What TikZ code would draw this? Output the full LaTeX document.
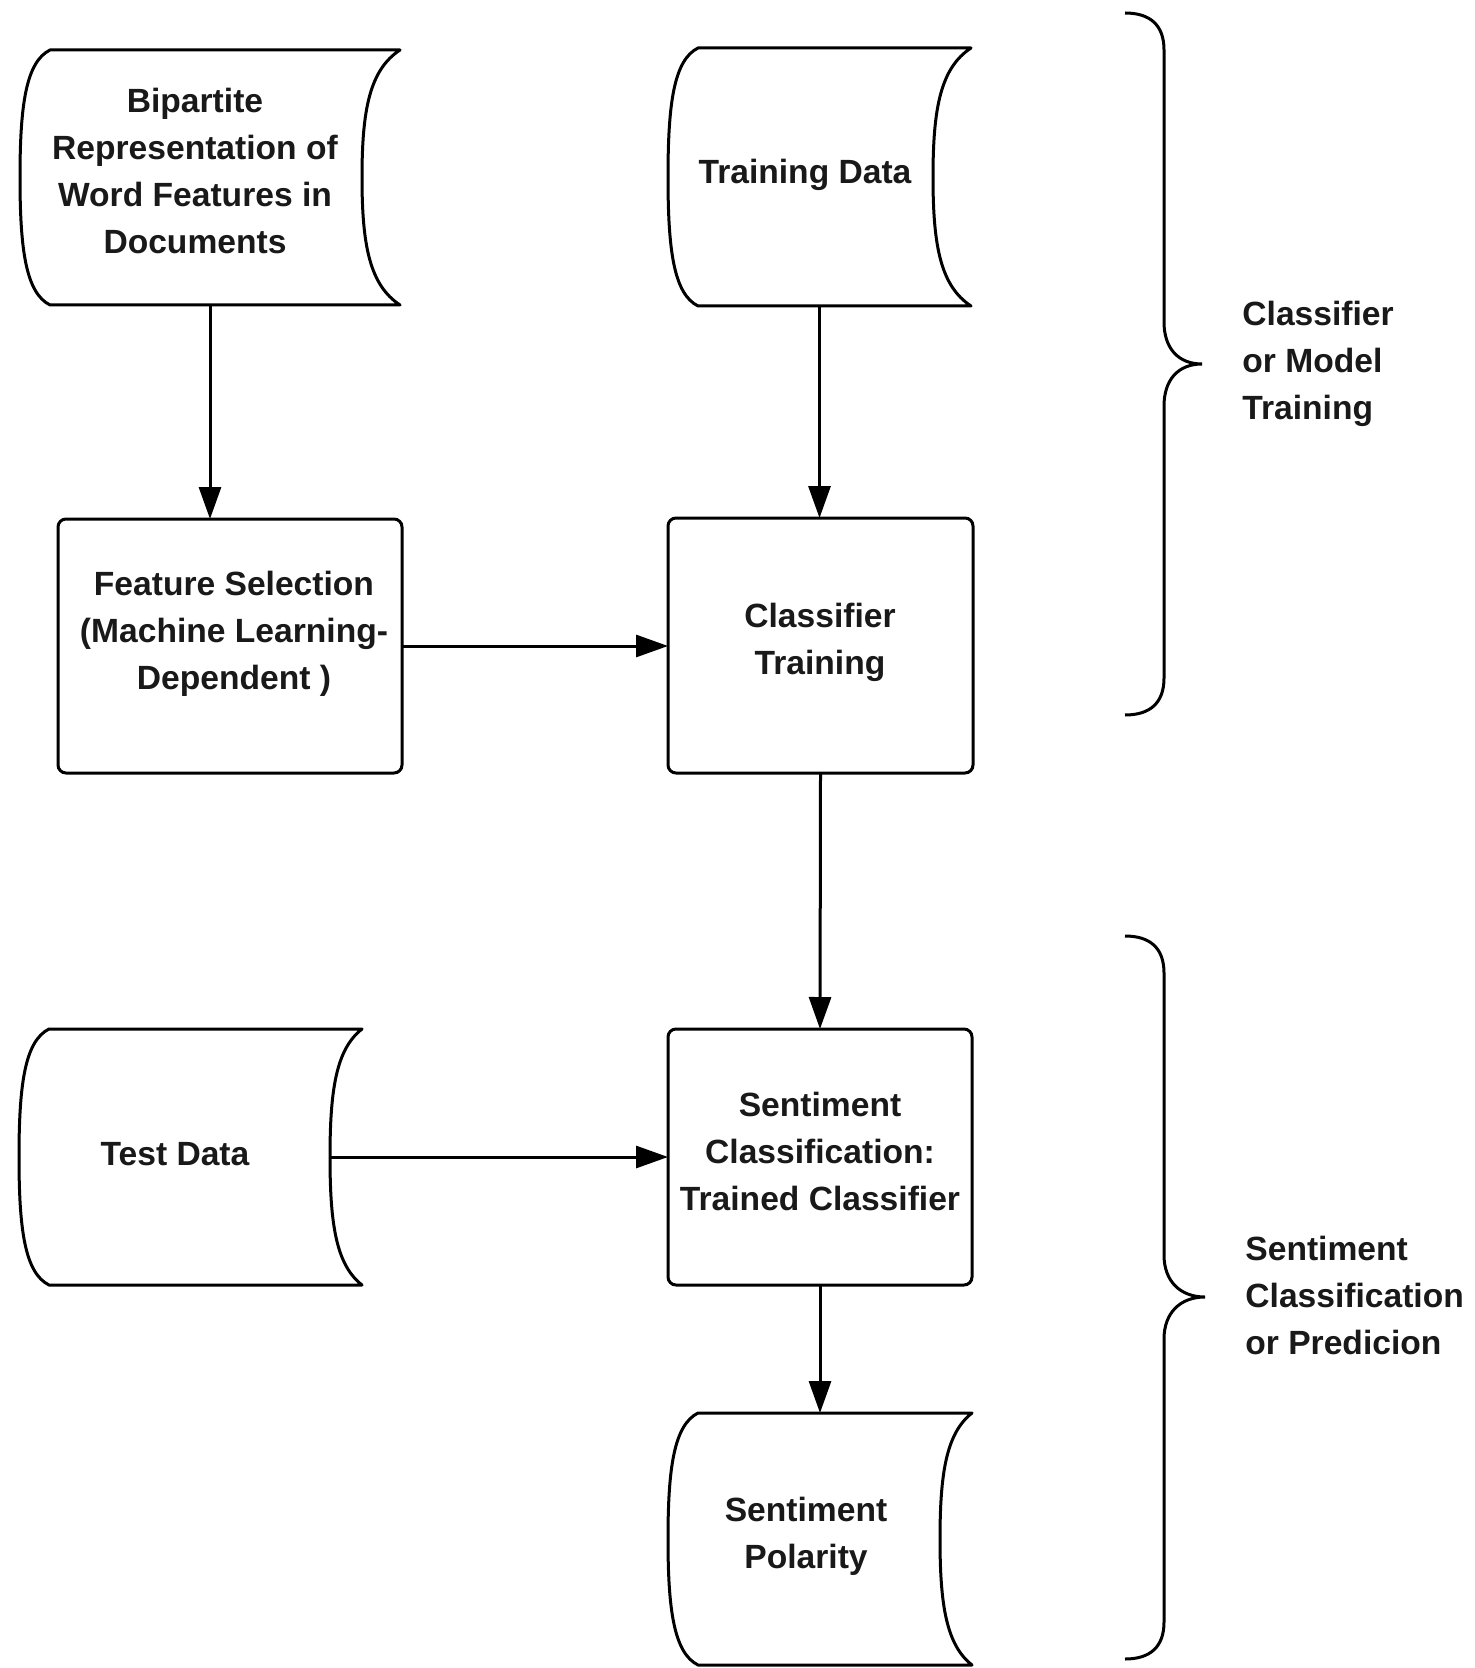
\documentclass[tikz,border=0pt]{standalone}
\usepackage{fontspec}
\setmainfont{Liberation Sans}
\usetikzlibrary{arrows.meta,fit}
\newcommand\storeshape[5]{% L R T B inner
  \draw[outl] (#1+30,#3) -- (#2,#3)
    .. controls (#2-#5*0.8,#3+20) and (#2-#5,#3+60) .. (#2-#5,{(#3+#4)/2})
    .. controls (#2-#5,#4-60) and (#2-#5*0.8,#4-20) .. (#2,#4)
    -- (#1+30,#4)
    .. controls (#1+6,#4-12) and (#1,#4-55) .. (#1,{(#3+#4)/2})
    .. controls (#1,#3+55) and (#1+6,#3+12) .. cycle;}
\begin{document}
\begin{tikzpicture}[x=0.5pt,y=-0.5pt,
  outl/.style={line width=1.5pt,line join=round},
  area/.style={inner sep=0pt,outer sep=0pt},
  proc/.style={inner sep=0pt,outer sep=0pt,draw,line width=1.5pt,rounded corners=4pt},
  txt/.style={font=\fontsize{16.8}{23.5}\selectfont\bfseries,align=center,text=black!90,inner sep=0pt},
  side/.style={font=\fontsize{16.8}{23.5}\selectfont\bfseries,align=left,text=black!90,inner sep=0pt,anchor=west},
  conn/.style={line width=1.5pt,-{Triangle[length=16pt,width=11pt]}},
  brace/.style={line width=1.5pt}]
\useasboundingbox (0,0) rectangle (1475,1668);
\fill[white] (0,0) rectangle (1475,1668);

% stored data shapes
\storeshape{20}{400}{50}{305}{38}
\node[area,fit={(20,50) (400,305)}] (bip) {};
\node[txt] (bipt) at (195,171) {Bipartite\\Representation of\\Word Features in\\Documents};

\storeshape{668}{971}{48}{306}{38}
\node[area,fit={(668,48) (971,306)}] (train) {};
\node[txt] (traint) at (805,175) {Training Data};

\storeshape{19}{362}{1029}{1285}{32}
\node[area,fit={(19,1029) (362,1285)}] (test) {};
\node[txt] (testt) at (175,1154) {Test Data};
\coordinate (testin) at (330,1157);

\storeshape{668}{972}{1413}{1665}{32}
\node[area,fit={(668,1413) (972,1665)}] (pol) {};
\node[txt] (polt) at (806,1536) {Sentiment\\Polarity};

% process boxes
\node[proc,fit={(58,519) (402,773)}] (feat) {};
\node[txt] (featt) at (234,634) {Feature Selection\\(Machine Learning-\\Dependent )};

\node[proc,fit={(668,518) (973,773)}] (cls) {};
\node[txt] (clst) at (820,642) {Classifier\\Training};

\node[proc,fit={(668,1029) (972,1285)}] (sent) {};
\node[txt] (sentt) at (820,1151) {Sentiment\\Classification:\\Trained Classifier};

% connectors
\draw[conn] (bip.south) -- (bip.south |- feat.north);
\draw[conn] (train.south) -- (train.south |- cls.north);
\draw[conn] (feat.east) -- (feat.east -| cls.west);
\draw[conn] (cls.south) -- (sent.north);
\draw[conn] (testin) -- (testin -| sent.west);
\draw[conn] (sent.south) -- (sent.south |- pol.north);

% braces
\draw[brace] (1125,13) .. controls (1150,13) and (1164,25) .. (1164,50)
  -- (1164,322) .. controls (1164,348) and (1178,364) .. (1202,364)
  .. controls (1178,364) and (1164,380) .. (1164,406)
  -- (1164,678) .. controls (1164,703) and (1150,715) .. (1125,715);
\node[side] (lab1) at (1242,364) {Classifier\\or Model\\Training};

\draw[brace] (1125,936) .. controls (1150,936) and (1164,948) .. (1164,973)
  -- (1164,1255) .. controls (1164,1281) and (1180,1297) .. (1205,1297)
  .. controls (1180,1297) and (1164,1313) .. (1164,1339)
  -- (1164,1622) .. controls (1164,1647) and (1150,1659) .. (1125,1659);
\node[side] (lab2) at (1245,1295) {Sentiment\\Classification\\or Predicion};
\end{tikzpicture}
\end{document}
